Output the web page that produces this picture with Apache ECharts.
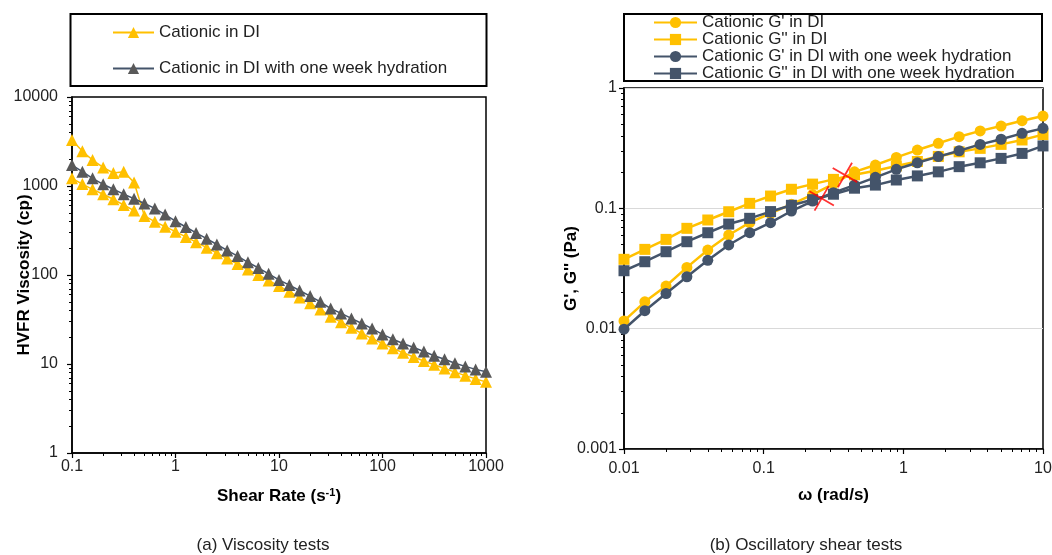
<!DOCTYPE html>
<html><head><meta charset="utf-8">
<script src="https://cdn.jsdelivr.net/npm/echarts@6/dist/echarts.min.js"></script>
<style>html,body{margin:0;padding:0;background:#fff}#c{width:1052px;height:555px}</style>
</head><body><div id="c"></div>
<script>
// ---- Chart (a): viscosity ----
const shearRate = [0.1,0.126,0.158,0.2,0.251,0.316,0.398,0.501,0.631,0.794,
  1,1.26,1.58,2,2.51,3.16,3.98,5.01,6.31,7.94,
  10,12.6,15.8,20,25.1,31.6,39.8,50.1,63.1,79.4,
  100,126,158,200,251,316,398,501,631,794,1000];
// high-viscosity start of "Cationic in DI" (first 7 rates)
const diHigh = [3290,2450,1960,1615,1400,1450,1095];
// low branch of "Cationic in DI" (all 41 rates)
const diLow = [1220,1050,918,807,709,612,529,461,397,349,
  307,268,234,203,176,153,133,115,100,87,
  75,65,56,48,41,34,29.5,25.5,22,19.3,
  17,15,13.4,12,10.8,9.8,8.9,8.1,7.4,6.8,6.3];
const diWeek = [1720,1450,1220,1045,920,810,720,635,560,478,
  402,346,297,256,220,189,163,139,120,103,
  88,77,67,58,50,42,37,32.5,28.5,25,
  21.5,19,17,15.3,13.8,12.4,11.3,10.2,9.4,8.7,8.2];
const nameA1 = 'Cationic in DI';
const nameA2 = 'Cationic in DI with one week hydration';

// ---- Chart (b): oscillatory ----
const omega = [0.01,0.0141,0.02,0.0282,0.0398,0.0562,0.0794,0.112,0.158,0.224,
  0.316,0.447,0.631,0.891,1.26,1.78,2.51,3.55,5.01,7.08,10];
const gp1 = [0.0116,0.0167,0.0226,0.0323,0.045,0.060,0.076,0.091,0.108,0.13,
  0.16,0.201,0.229,0.265,0.305,0.347,0.394,0.44,0.483,0.535,0.585];
const gpp1 = [0.0377,0.0456,0.0552,0.0682,0.080,0.0937,0.11,0.1265,0.144,0.159,
  0.174,0.19,0.205,0.225,0.245,0.27,0.295,0.315,0.34,0.37,0.41];
const gp2 = [0.0099,0.0141,0.0196,0.027,0.037,0.0496,0.0627,0.076,0.095,0.115,
  0.135,0.156,0.181,0.211,0.239,0.269,0.301,0.34,0.375,0.42,0.462];
const gpp2 = [0.0303,0.036,0.0436,0.0528,0.0627,0.074,0.0826,0.094,0.106,0.118,
  0.131,0.147,0.156,0.172,0.186,0.201,0.222,0.239,0.26,0.286,0.33];
const crossX = [0.26,0.382];
const crossY = [0.121,0.189];
const nameB = ["Cationic G' in DI","Cationic G'' in DI","Cationic G' in DI with one week hydration","Cationic G'' in DI with one week hydration"];

const captions = ['(a) Viscosity tests','(b) Oscillatory shear tests'];

const YEL = '#FFC000', DARK = '#44546A', GREY = '#595959';
const FONT = "'Liberation Sans', Arial, sans-serif";

function minorTicks(lo, hi){
  const out=[];
  for(let d=lo; d<hi*0.999; d*=10){ for(let m=2;m<=9;m++){ out.push(+(d*m).toPrecision(6)); } }
  return out;
}
const zip = (xs, ys) => ys.map((v,i)=>[xs[i], v]);
const fmt = v => String(+(+v).toPrecision(6));

function mainAxis(grid, min, max, extra){
  return Object.assign({
    type:'log', logBase:10, gridIndex:grid, min:min, max:max,
    axisLine:{show:true, onZero:false, lineStyle:{color:'#000', width:1.5}},
    axisTick:{show:true, inside:false, length:5, lineStyle:{color:'#000', width:1.2}},
    splitLine:{show:false},
    nameMoveOverlap:false,
    nameTextStyle:{color:'#000', fontSize:17, fontWeight:'bold', fontFamily:FONT},
    nameLocation:'middle'
  }, extra||{});
}
function minorAxis(grid, min, max, pos){
  return {
    type:'log', logBase:10, gridIndex:grid, min:min, max:max, position:pos,
    axisLine:{show:false, onZero:false},
    axisTick:{show:true, inside:false, length:3, customValues:minorTicks(min,max), lineStyle:{color:'#000', width:1}},
    axisLabel:{show:false},
    splitLine:{show:false}
  };
}
const lab = m => ({color:'#222', fontSize:16, fontFamily:FONT, margin:m, formatter:fmt});

const chart = echarts.init(document.getElementById('c'), null, {renderer:'canvas'});
const option = {
  animation:false,
  backgroundColor:'#fff',
  textStyle:{fontFamily:FONT},
  grid:[
    {left:72, top:97, width:414, height:356, show:true, borderColor:'#000', borderWidth:1.5, containLabel:false, outerBoundsMode:'none'},
    {left:624, top:88, width:419, height:361, show:true, borderColor:'#000', borderWidth:1.5, containLabel:false, outerBoundsMode:'none'}
  ],
  xAxis:[
    mainAxis(0, 0.1, 1000, {position:'bottom', name:'Shear Rate (s{sup|-1})', nameGap:34,
      nameTextStyle:{color:'#000', fontSize:17, fontWeight:'bold', fontFamily:FONT,
        rich:{sup:{fontSize:11, fontWeight:'bold', verticalAlign:'top', padding:[0,0,8,0], fontFamily:FONT}}},
      axisLabel:lab(6)}),
    minorAxis(0, 0.1, 1000, 'bottom'),
    mainAxis(1, 0.01, 10, {position:'bottom', name:'ω (rad/s)', nameGap:38, axisLabel:lab(12)}),
    minorAxis(1, 0.01, 10, 'bottom')
  ],
  yAxis:[
    mainAxis(0, 1, 10000, {position:'left', name:'HVFR Viscosity (cp)', nameGap:39, axisLabel:lab(14)}),
    minorAxis(0, 1, 10000, 'left'),
    mainAxis(1, 0.001, 1, {position:'left', name:"G', G'' (Pa)", nameGap:44, axisLabel:lab(7),
      splitLine:{show:true, lineStyle:{color:'#d9d9d9', width:1.2}}}),
    minorAxis(1, 0.001, 1, 'left')
  ],
  legend:[
    {data:[nameA1, nameA2], orient:'vertical', left:112, top:24, padding:0, itemGap:19,
      itemWidth:41, itemHeight:14, textStyle:{fontSize:17, color:'#222', fontFamily:FONT}, selectedMode:false},
    {data:nameB, orient:'vertical', left:653, top:14, padding:0, itemGap:0,
      itemWidth:43, itemHeight:14, textStyle:{fontSize:17, color:'#222', fontFamily:FONT, lineHeight:16.7}, selectedMode:false}
  ],
  graphic:[
    {type:'rect', shape:{x:70.5, y:14, width:416, height:72}, style:{fill:'none', stroke:'#000', lineWidth:2}, z:-1},
    {type:'rect', shape:{x:624, y:14, width:418, height:67}, style:{fill:'none', stroke:'#000', lineWidth:2}, z:-1},
    {type:'text', x:263, y:545, style:{text:captions[0], font:'17px '+FONT, fill:'#222', textAlign:'center', textVerticalAlign:'middle'}},
    {type:'text', x:806, y:545, style:{text:captions[1], font:'17px '+FONT, fill:'#222', textAlign:'center', textVerticalAlign:'middle'}}
  ],
  series:[
    {name:nameA1, type:'line', xAxisIndex:0, yAxisIndex:0,
      data: zip(shearRate, diHigh).concat(zip(shearRate, diLow).slice(diHigh.length)),
      symbol:'triangle', symbolSize:12, lineStyle:{color:YEL, width:1.5}, itemStyle:{color:YEL}, z:2},
    {name:nameA1, type:'line', xAxisIndex:0, yAxisIndex:0,
      data: zip(shearRate, diLow).slice(0, diHigh.length),
      symbol:'triangle', symbolSize:12, lineStyle:{color:YEL, width:1.5}, itemStyle:{color:YEL}, z:2},
    {name:nameA2, type:'line', xAxisIndex:0, yAxisIndex:0, data: zip(shearRate, diWeek),
      symbol:'triangle', symbolSize:12, lineStyle:{color:DARK, width:1.5}, itemStyle:{color:GREY}, z:3},
    {name:nameB[0], type:'line', xAxisIndex:2, yAxisIndex:2, data: zip(omega, gp1),
      symbol:'circle', symbolSize:11, lineStyle:{color:YEL, width:2.5}, itemStyle:{color:YEL}, z:2},
    {name:nameB[1], type:'line', xAxisIndex:2, yAxisIndex:2, data: zip(omega, gpp1),
      symbol:'rect', symbolSize:11, lineStyle:{color:YEL, width:2.5}, itemStyle:{color:YEL}, z:3},
    {name:nameB[2], type:'line', xAxisIndex:2, yAxisIndex:2, data: zip(omega, gp2),
      symbol:'circle', symbolSize:11, lineStyle:{color:DARK, width:2.5}, itemStyle:{color:DARK}, z:4},
    {name:nameB[3], type:'line', xAxisIndex:2, yAxisIndex:2, data: zip(omega, gpp2),
      symbol:'rect', symbolSize:11, lineStyle:{color:DARK, width:2.5}, itemStyle:{color:DARK}, z:5},
    {name:'crossover', type:'scatter', xAxisIndex:2, yAxisIndex:2, data: zip(crossX, crossY),
      symbol:'path://M0,0L20,20M20,0L0,20', symbolSize:20, symbolRotate:15,
      itemStyle:{color:'none', borderColor:'#FF0000', borderWidth:1.8}, z:10}
  ]
};
chart.setOption(option);
</script>
</body></html>
